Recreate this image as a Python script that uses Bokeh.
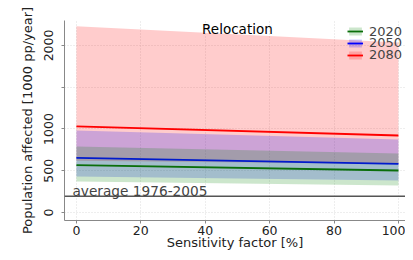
import numpy as np
from bokeh.plotting import figure
from bokeh.models import Span, Label, Legend, LegendItem, FixedTicker
from bokeh.embed import file_html
from bokeh.resources import INLINE

# Data
sens = [0, 100]
y2020_mean = [567, 503]
y2020_lo = [371, 323]
y2020_hi = [790, 707]
y2050_mean = [655, 583]
y2050_lo = [431, 383]
y2050_hi = [982, 874]
y2080_mean = [1030, 922]
y2080_lo = [620, 580]
y2080_hi = [2231, 2036]
baseline = 195
x_ticks = [0, 20, 40, 60, 80, 100]
y_ticks = [0, 500, 1000, 1500, 2000]

FONT = "DejaVu Sans"
FH = 200  # frame height in px

p = figure(width=405, height=252, output_backend="svg", toolbar_location=None,
           x_range=(-3.7, 102.2), y_range=(-96, 2299),
           min_border_left=64, min_border_right=0, min_border_top=20,
           min_border_bottom=32)
p.outline_line_color = None
p.background_fill_color = "white"

series = [
    ("2080", y2080_lo, y2080_hi, y2080_mean, "red", "red"),
    ("2050", y2050_lo, y2050_hi, y2050_mean, "blue", "blue"),
    ("2020", y2020_lo, y2020_hi, y2020_mean, "green", "#0a6e0a"),
]
items = {}
for name, lo, hi, mean, fc, lc in series:
    a = p.varea(x=sens, y1=lo, y2=hi, fill_color=fc, fill_alpha=0.2)
    l = p.line(x=sens, y=mean, line_color=lc, line_width=1.8)
    items[name] = [a, l]

span = Span(location=baseline, dimension="width", line_color="#555555", line_width=1.5)
p.add_layout(span)

p.add_layout(Label(x=0, y=baseline, text="average 1976-2005", text_font=FONT,
                   text_font_size="13.7px", text_color="#444444",
                   x_offset=-4, y_offset=5, text_baseline="alphabetic"))
p.add_layout(Label(x=50, y=FH, y_units="screen", text="Relocation", text_font=FONT,
                   text_font_size="13.5px", text_color="black", text_align="center",
                   text_baseline="top"))

centers = [32.7, 44.3, 56.0]
for name, c in zip(["2020", "2050", "2080"], centers):
    lg = Legend(items=[LegendItem(label=name, renderers=items[name])],
                location=(283, FH + 20 - c - 6), background_fill_alpha=0, border_line_alpha=0,
                label_text_font=FONT, label_text_font_size="13px",
                glyph_width=16, glyph_height=10, label_height=10,
                padding=0, margin=0, label_standoff=6, spacing=0)
    p.add_layout(lg)

p.xaxis.ticker = FixedTicker(ticks=x_ticks)
p.yaxis.ticker = FixedTicker(ticks=y_ticks)
p.yaxis.major_label_overrides = {1500: ""}
p.yaxis.major_label_orientation = "vertical"
for ax in (p.xaxis, p.yaxis):
    ax.axis_line_color = "#888888"
    ax.major_tick_line_color = "#888888"
    ax.major_tick_out = 3
    ax.major_tick_in = 0
    ax.minor_tick_line_color = None
    ax.major_label_text_font = FONT
    ax.major_label_text_font_size = "12.5px"
    ax.major_label_text_color = "#222222"
    ax.axis_label_text_font = FONT
    ax.axis_label_text_font_size = "13px"
    ax.axis_label_text_font_style = "normal"
    ax.axis_label_text_color = "#222222"
p.xaxis.major_label_standoff = 2
p.yaxis.major_label_standoff = 8
p.xaxis.axis_label = "Sensitivity factor [%]"
p.yaxis.axis_label = "Population affected [1000 pp/year]"
p.xaxis.axis_label_standoff = -3
p.yaxis.axis_label_standoff = 7

p.grid.grid_line_color = "#dddddd"
p.grid.grid_line_dash = "1 2"

open("out.html", "w").write(file_html(p, INLINE))
